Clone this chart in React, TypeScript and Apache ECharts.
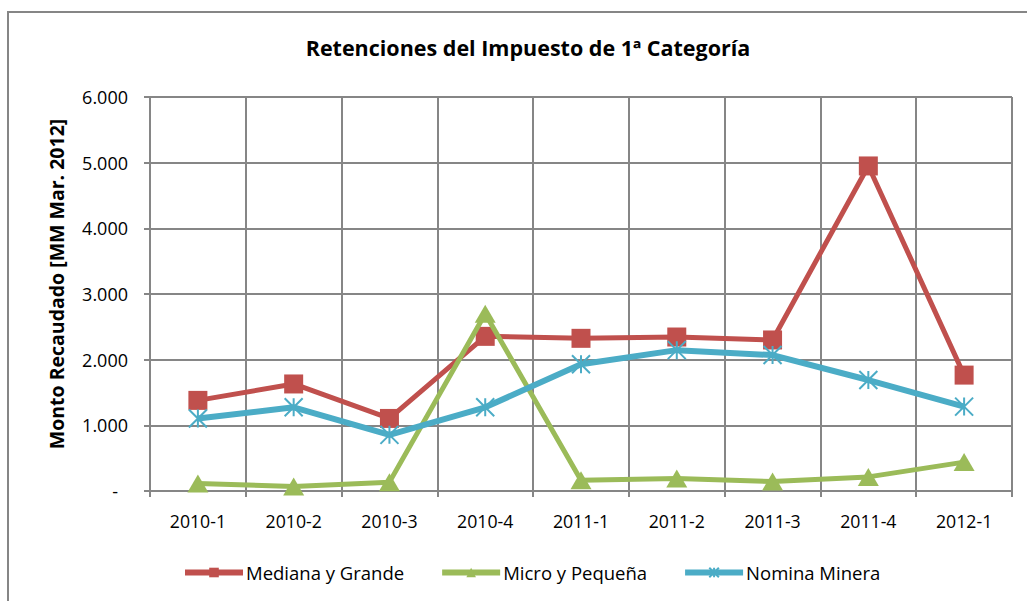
import React, { useEffect, useRef } from "react";
import * as echarts from "echarts";

const categories = ["2010-1", "2010-2", "2010-3", "2010-4", "2011-1", "2011-2", "2011-3", "2011-4", "2012-1"];
const medianaGrande = [1380, 1630, 1105, 2355, 2325, 2345, 2300, 4950, 1765];
const microPequena = [115, 70, 135, 2700, 165, 190, 145, 215, 440];
const nominaMinera = [1105, 1275, 855, 1275, 1930, 2145, 2070, 1690, 1285];
const yTicks = { min: 0, max: 6000, interval: 1000 };

const FONT = "'Open Sans', 'Liberation Sans', sans-serif";
const asterisk = "path://M0,0L10,10M10,0L0,10M5,0L5,10";

function fmt(v: number): string {
  if (v === 0) return "{d|-}";
  const s = String(Math.round(v));
  return s.replace(/\B(?=(\d{3})+(?!\d))/g, ".");
}

export default function App() {
  const ref = useRef<HTMLDivElement>(null);
  useEffect(() => {
    if (!ref.current) return;
    const chart = echarts.init(ref.current, undefined, { renderer: "svg" });
    chart.setOption({
      animation: false,
      backgroundColor: "#ffffff",
      graphic: [
        {
          type: "rect",
          shape: { x: 8, y: 12, width: 1100, height: 700 },
          style: { fill: "none", stroke: "#868686", lineWidth: 2 },
          silent: true,
          z: -10,
        },
      ],
      title: {
        text: "Retenciones del Impuesto de 1ª Categoría",
        left: 523,
        top: 31,
        textAlign: "center",
        textStyle: { fontFamily: FONT, fontSize: 21.5, fontWeight: "bold", color: "#000" },
      },
      grid: { left: 150, top: 97, right: 15, bottom: 110, containLabel: false },
      legend: {
        left: 177,
        top: 558,
        itemWidth: 58,
        itemHeight: 12,
        itemGap: 35,
        lineStyle: { width: 6 },
        textStyle: { fontFamily: FONT, fontSize: 18.5, color: "#000", padding: [0, 0, 0, -2] },
        data: ["Mediana y Grande", "Micro y Pequeña", "Nomina Minera"],
      },
      xAxis: {
        type: "category",
        data: categories,
        boundaryGap: true,
        axisLine: { lineStyle: { color: "#868686", width: 2 } },
        axisTick: { show: true, length: 6, lineStyle: { color: "#868686", width: 2 } },
        axisLabel: { fontFamily: FONT, fontSize: 17.7, color: "#000", margin: 21 },
        splitLine: { show: true, lineStyle: { color: "#868686", width: 2 } },
      },
      yAxis: {
        type: "value",
        min: yTicks.min,
        max: yTicks.max,
        interval: yTicks.interval,
        name: "Monto Recaudado [MM Mar. 2012]",
        nameLocation: "middle",
        nameGap: 84,
        nameRotate: 90,
        nameTextStyle: { fontFamily: FONT, fontSize: 19.5, fontWeight: "bold", color: "#000", padding: [0, 0, 0, 20] },
        axisLine: { show: true, lineStyle: { color: "#868686", width: 2 } },
        axisTick: { show: true, length: 6, lineStyle: { color: "#868686", width: 2 } },
        axisLabel: {
          fontFamily: FONT,
          fontSize: 18,
          color: "#000",
          margin: 22,
          formatter: fmt,
          rich: { d: { fontFamily: FONT, fontSize: 18, color: "#000", padding: [0, 10, 0, 0] } },
        },
        splitLine: { show: true, lineStyle: { color: "#868686", width: 2 } },
      },
      series: [
        {
          name: "Mediana y Grande",
          type: "line",
          data: medianaGrande,
          symbol: "rect",
          symbolSize: 19,
          color: "#C0504D",
          lineStyle: { color: "#C0504D", width: 5 },
          itemStyle: { color: "#C0504D" },
          z: 2,
        },
        {
          name: "Micro y Pequeña",
          type: "line",
          data: microPequena,
          symbol: "triangle",
          symbolSize: [21, 18],
          color: "#9BBB59",
          lineStyle: { color: "#9BBB59", width: 5 },
          itemStyle: { color: "#9BBB59" },
          z: 3,
        },
        {
          name: "Nomina Minera",
          type: "line",
          data: nominaMinera,
          symbol: asterisk,
          symbolSize: 18,
          color: "#4BACC6",
          lineStyle: { color: "#4BACC6", width: 6 },
          itemStyle: { color: "#4BACC6", borderColor: "#4BACC6", borderWidth: 2 },
          z: 4,
        },
      ],
    });
    return () => chart.dispose();
  }, []);
  return (
    <div
      ref={ref}
      style={{ position: "absolute", left: 0, top: 0, width: 1027, height: 601 }}
    />
  );
}
